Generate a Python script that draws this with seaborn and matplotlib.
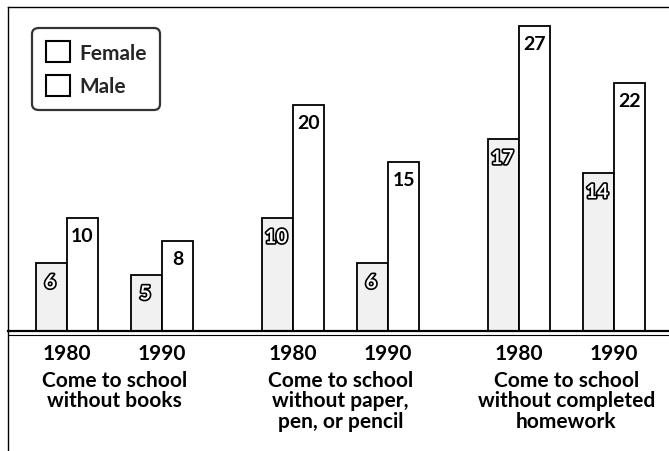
import matplotlib
matplotlib.use("Agg")
import matplotlib.pyplot as plt
import matplotlib.patheffects as pe
from matplotlib.lines import Line2D
from matplotlib.patches import Patch
import seaborn as sns
import pandas as pd

# ---- data ----
categories = ["Come to school\nwithout books",
              "Come to school\nwithout paper,\npen, or pencil",
              "Come to school\nwithout completed\nhomework"]
years = ["1980", "1990"]
female = [6, 5, 10, 6, 17, 14]
male = [10, 8, 20, 15, 27, 22]
series = ["Female", "Male"]

# ---- layout positions (slot per category/year) ----
group_step = 2.38
positions = []
for ci in range(len(categories)):
    for yi in range(len(years)):
        positions.append(round(ci * group_step + yi, 3))

rows = []
for i, p in enumerate(positions):
    rows.append({"pos": p, "sex": "Female", "value": female[i]})
    rows.append({"pos": p, "sex": "Male", "value": male[i]})
df = pd.DataFrame(rows)

sns.set_theme(style="white")
plt.rcParams["font.family"] = ["Lato", "DejaVu Sans"]

W, H = 669, 452
fig = plt.figure(figsize=(W / 100, H / 100), dpi=100)
ax_left, ax_top, ax_base = 8, 8, 332
ax = fig.add_axes([ax_left / W, (H - ax_base) / H, (W - ax_left) / W, (ax_base - ax_top) / H])

bar_w = 0.66
sns.barplot(data=df, x="pos", y="value", hue="sex", hue_order=series,
            palette={"Female": "#f1f1f1", "Male": "#ffffff"},
            native_scale=True, width=bar_w, dodge=True, errorbar=None,
            edgecolor="black", linewidth=1.3, legend=False, ax=ax)

ax.set_xlim(-0.62, 6.34)
ax.set_ylim(0, 28.7)
ax.set_xlabel("")
ax.set_ylabel("")
ax.set_xticks([])
ax.set_yticks([])
ax.spines["right"].set_visible(False)
ax.spines["top"].set_linewidth(1.0)
ax.spines["left"].set_linewidth(1.0)
ax.spines["bottom"].set_linewidth(1.6)
for s in ["top", "left", "bottom"]:
    ax.spines[s].set_color("black")

half = bar_w / 4
for i, p in enumerate(positions):
    ax.annotate(str(female[i]), xy=(p - half, female[i]), xytext=(-1, -11),
                textcoords="offset pixels", ha="center", va="top",
                fontsize=14, fontweight="bold", color="white",
                path_effects=[pe.Stroke(linewidth=2.4, foreground="black"), pe.Normal()])
    ax.annotate(str(male[i]), xy=(p + half, male[i]), xytext=(0, -9),
                textcoords="offset pixels", ha="center", va="top",
                fontsize=14, fontweight="bold", color="black")
    ax.annotate(years[i % 2], xy=(p, 0), xycoords=("data", "axes fraction"),
                xytext=(0, -22), textcoords="offset pixels", ha="center", va="center",
                fontsize=15, fontweight="bold", color="black", annotation_clip=False)

for ci, cat in enumerate(categories):
    mid = ci * group_step + 0.5
    ax.annotate(cat, xy=(mid, 0), xycoords=("data", "axes fraction"),
                xytext=(0, -39), textcoords="offset pixels", ha="center", va="top",
                fontsize=15, fontweight="bold", color="black", linespacing=1.02,
                annotation_clip=False)

# second rule below baseline and left frame to bottom
fig.add_artist(Line2D([ax_left / W, 1.0], [(H - 336) / H] * 2, color="black", lw=0.8))
fig.add_artist(Line2D([ax_left / W] * 2, [0, (H - ax_base) / H], color="black", lw=1.0))

handles = [Patch(facecolor="white", edgecolor="black", linewidth=1.5, label=s) for s in series]
leg = ax.legend(handles=handles, loc="upper left", bbox_to_anchor=(0.04, 0.93),
                borderaxespad=0, frameon=True, fancybox=True,
                handlelength=1.15, handleheight=1.15,
                handletextpad=0.45, borderpad=0.55, labelspacing=0.6,
                prop={"family": ["Lato", "DejaVu Sans"], "weight": "bold", "size": 15})
leg.get_frame().set_edgecolor("black")
leg.get_frame().set_linewidth(1.6)
leg.get_frame().set_boxstyle("round,pad=0.1,rounding_size=0.3")

fig.savefig("out.png", dpi=100)
